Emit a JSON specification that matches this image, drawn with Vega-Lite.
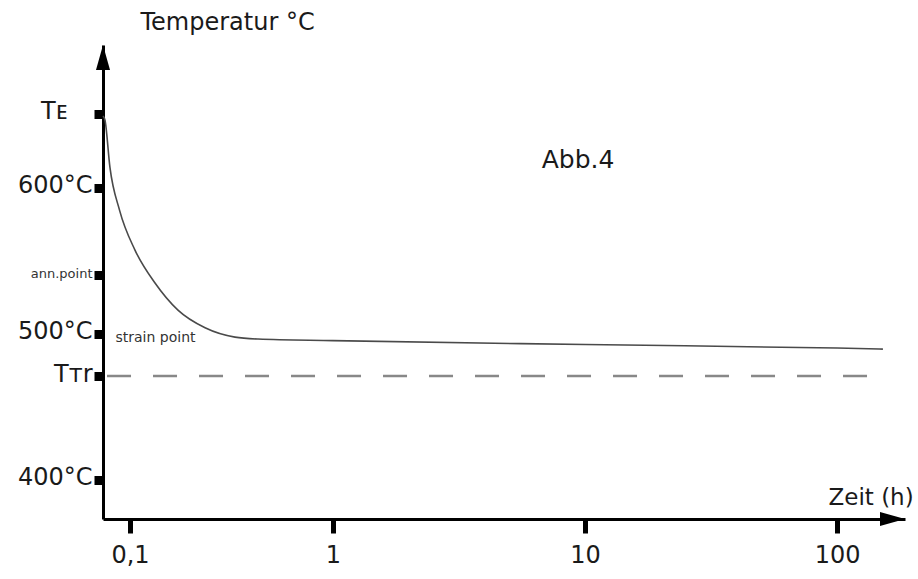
{
  "$schema": "https://vega.github.io/schema/vega-lite/v6.json",
  "autosize": {"type": "none"},
  "padding": {"left": 103, "top": 45, "right": 13, "bottom": 60},
  "width": 802,
  "height": 474,
  "background": "white",
  "config": {
    "view": {"stroke": null},
    "font": "DejaVu Sans",
    "axis": {"grid": false}
  },
  "datasets": {
    "curve": [
      {"t": 0.08, "T": 649.3},
      {"t": 0.0813, "T": 646.6},
      {"t": 0.0847, "T": 614.3},
      {"t": 0.0917, "T": 584.8},
      {"t": 0.1058, "T": 557.4},
      {"t": 0.1328, "T": 534.8},
      {"t": 0.1723, "T": 516.2},
      {"t": 0.2343, "T": 504.1},
      {"t": 0.3291, "T": 497.7},
      {"t": 0.4271, "T": 496.4},
      {"t": 1, "T": 495.3},
      {"t": 10, "T": 492.6},
      {"t": 100, "T": 490.2},
      {"t": 152, "T": 489.5}
    ],
    "ttr": [{"t": 0.0827, "t2": 141.5, "T": 471}],
    "small": [{"t": 0.0887, "T": 497, "label": "strain point"}],
    "big": [{"t": 9.38, "T": 619, "label": "Abb.4"}],
    "yarrow": [{"t": 0.08, "T": 698}],
    "xarrow": [{"t": 186, "T": 373}]
  },
  "encoding": {
    "x": {
      "field": "t",
      "type": "quantitative",
      "scale": {"type": "log", "domain": [0.08, 0.1, 1, 186], "range": [0, 27, 230, 802], "nice": false},
      "axis": {
        "values": [0.1, 1, 10, 100],
        "labelExpr": "replace(format(datum.value, '~g'), '.', ',')",
        "labelFontSize": 24,
        "labelColor": "#1a1a1a",
        "labelPadding": 10,
        "labelFlush": false,
        "domainColor": "#000000",
        "domainWidth": 3,
        "tickColor": "#000000",
        "tickSize": 14,
        "tickWidth": 5,
        "tickCap": "butt",
        "title": "Zeit (h)",
        "titleFontSize": 23,
        "titleFontWeight": "normal",
        "titleColor": "#1a1a1a",
        "titleAlign": "left",
        "titleBaseline": "middle",
        "titleX": 725,
        "titleY": -22
      }
    },
    "y": {
      "field": "T",
      "type": "quantitative",
      "scale": {"domain": [373, 698], "nice": false, "zero": false},
      "axis": {
        "values": [400, 471, 500, 540, 600, 651],
        "labelExpr": "datum.value == 651 ? 'Tᴇ' : datum.value == 540 ? 'ann.point' : datum.value == 471 ? 'Tᴛr' : datum.value + '°C'",
        "labelFontSize": {"condition": {"test": "datum.value == 540", "value": 13}, "value": 24},
        "labelColor": {"condition": {"test": "datum.value == 540", "value": "#333333"}, "value": "#1a1a1a"},
        "labelPadding": {"condition": {"test": "datum.value == 651", "value": 27}, "value": 2},
        "labelBaseline": "middle",
        "labelOffset": -2,
        "domainColor": "#000000",
        "domainWidth": 3,
        "tickColor": "#000000",
        "tickSize": 9,
        "tickWidth": 9,
        "tickCap": "butt",
        "title": "Temperatur °C",
        "titleAngle": 0,
        "titleFontSize": 24,
        "titleFontWeight": "normal",
        "titleColor": "#1a1a1a",
        "titleAlign": "left",
        "titleBaseline": "middle",
        "titleX": 37,
        "titleY": -23
      }
    }
  },
  "layer": [
    {
      "data": {"name": "curve"},
      "mark": {"type": "line", "interpolate": "monotone", "color": "#4a4a4a", "strokeWidth": 1.6},
      "encoding": {}
    },
    {
      "data": {"name": "ttr"},
      "mark": {"type": "rule", "color": "#888888", "strokeWidth": 2.5, "strokeDash": [24, 22]},
      "encoding": {"x2": {"field": "t2"}}
    },
    {
      "data": {"name": "small"},
      "mark": {"type": "text", "align": "left", "baseline": "middle", "fontSize": 14, "color": "#333333"},
      "encoding": {"text": {"field": "label"}}
    },
    {
      "data": {"name": "big"},
      "mark": {"type": "text", "align": "center", "baseline": "middle", "fontSize": 25, "color": "#1a1a1a"},
      "encoding": {"text": {"field": "label"}}
    },
    {
      "data": {"name": "yarrow"},
      "mark": {"type": "point", "filled": true, "color": "#000000", "opacity": 1, "size": 625, "shape": "M0,0L-0.56,2L0.56,2Z"},
      "encoding": {}
    },
    {
      "data": {"name": "xarrow"},
      "mark": {"type": "point", "filled": true, "color": "#000000", "opacity": 1, "size": 625, "shape": "M0,0L-2,-0.56L-2,0.56Z"},
      "encoding": {}
    }
  ]
}
